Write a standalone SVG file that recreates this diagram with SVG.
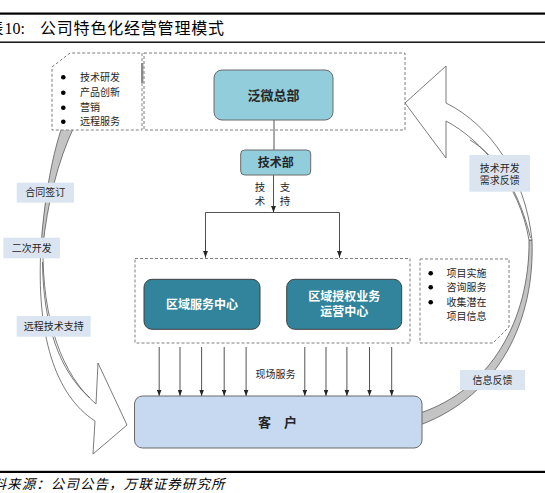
<svg xmlns="http://www.w3.org/2000/svg" width="545" height="493" viewBox="0 0 545 493">
<defs>
<marker id="ah" viewBox="0 0 8 6" refX="8" refY="3" markerWidth="6.5" markerHeight="5" orient="auto" markerUnits="userSpaceOnUse">
<path d="M0,0 L8,3 L0,6 Z" fill="#262626"/>
</marker>
</defs>
<style>
.t{font-family:'Liberation Sans','Noto Sans CJK SC',sans-serif;fill:#262626;font-size:10px}
.c{text-anchor:middle}
.b{font-weight:bold}
.dash{fill:#ffffff;stroke:#7f7f7f;stroke-width:1;stroke-dasharray:3,2}
.rib{stroke:#595959;stroke-width:0.8;stroke-linejoin:miter}
.lbl{fill:#dbe5f1}
.con{stroke:#404040;stroke-width:0.9;fill:none}
.dot{fill:#000000}
</style>
<rect x="0" y="0" width="545" height="493" fill="#ffffff"/>

<!-- header / footer -->
<g id="header">
<rect x="0" y="12.5" width="545" height="2.2" fill="#000000"/>
<rect x="0" y="41.5" width="545" height="1.4" fill="#000000"/>
<text x="-12.5" y="34" style="font-family:'Liberation Serif','Noto Sans CJK SC',serif;font-size:16px;fill:#000">表</text>
<text x="4.5" y="34" style="font-family:'Liberation Serif','Noto Sans CJK SC',serif;font-size:16px;fill:#000">10:</text>
<text x="40" y="34" style="font-family:'Liberation Serif','Noto Sans CJK SC',serif;font-size:16px;fill:#000" textLength="184" lengthAdjust="spacing">公司特色化经营管理模式</text>
</g>
<g id="footer">
<rect x="0" y="470.8" width="545" height="2.2" fill="#000000"/>
<text x="-7.5" y="489" textLength="232" lengthAdjust="spacing" style="font-family:'Liberation Serif','Noto Sans CJK SC',serif;font-size:13.5px;font-style:italic;fill:#000">料来源：公司公告，万联证券研究所</text>
</g>

<!-- ribbons (curved arrows) -->
<g id="left-ribbon">
<path class="rib" fill="#c4c4c4" d="M62,127 C54,150 45,190 41,246 L43,246 C47,205 58,160 74,127 Z"/>
<path class="rib" fill="#ffffff" d="M41,246 C36,335 55,395 95,421 L93,454 L127,425 L98,363 L96,404 C62,375 42,320 43,246 Z"/>
<path class="rib" fill="none" d="M42.5,262 C43,325 60,372 90,398"/>
</g>
<g id="right-ribbon">
<path class="rib" fill="#c4c4c4" d="M532,240 C535,320 500,395 420,425 L420,413 C490,390 530,320 529,240 Z"/>
<path class="rib" fill="#ffffff" d="M532,240 C525,175 490,125 446,103 L446,66 L405,103 L446,158 L446,121 C482,140 520,185 529,240 Z"/>
<path class="rib" fill="none" d="M470,140 C500,158 520,195 530.5,238"/>
</g>

<!-- dotted groupings -->
<g id="hq-group">
<path class="dash" d="M52,67 L70,53 L142,53 L142,130 L52,130 Z"/>
<rect x="141" y="63" width="2.4" height="20" fill="#8c8c8c"/>
<rect class="dash" x="144" y="53" width="261" height="77"/>
<circle class="dot" cx="63.3" cy="77.3" r="2.3"/>
<circle class="dot" cx="63.3" cy="92.7" r="2.3"/>
<circle class="dot" cx="63.3" cy="107.7" r="2.3"/>
<circle class="dot" cx="63.3" cy="121.7" r="2.3"/>
<text class="t" x="80" y="80.9">技术研发</text>
<text class="t" x="80" y="96.3">产品创新</text>
<text class="t" x="80" y="111.3">营销</text>
<text class="t" x="80" y="125.3">远程服务</text>
</g>
<g id="center-group">
<rect class="dash" x="135" y="258.5" width="275" height="84.5"/>
</g>
<g id="right-list">
<path class="dash" d="M420,259 L509,259 L509,327 L493,343 L420,343 Z"/>
<circle class="dot" cx="430.7" cy="273.3" r="2.3"/>
<circle class="dot" cx="430.7" cy="287.3" r="2.3"/>
<circle class="dot" cx="430.7" cy="302.3" r="2.3"/>
<text class="t" x="446.5" y="276.9">项目实施</text>
<text class="t" x="446.5" y="290.9">咨询服务</text>
<text class="t" x="446.5" y="305.9">收集潜在</text>
<text class="t" x="446.5" y="320.3">项目信息</text>
</g>

<!-- ribbon labels -->
<g id="label-contract">
<rect class="lbl" x="16.7" y="182.7" width="57.3" height="20"/>
<text class="t c" x="45.3" y="196.4">合同签订</text>
</g>
<g id="label-redev">
<rect class="lbl" x="3.3" y="237.7" width="56.7" height="20.6"/>
<text class="t c" x="31.7" y="251.7">二次开发</text>
</g>
<g id="label-remote">
<rect class="lbl" x="16.7" y="316" width="74" height="20.7"/>
<text class="t c" x="53.7" y="330">远程技术支持</text>
</g>
<g id="label-feedback-tech">
<rect class="lbl" x="469.3" y="155" width="60.7" height="36.7"/>
<text class="t c" x="499.7" y="172">技术开发</text>
<text class="t c" x="499.7" y="184.4">需求反馈</text>
</g>
<g id="label-info">
<rect class="lbl" x="460" y="370" width="65" height="20"/>
<text class="t c" x="492.5" y="383.7">信息反馈</text>
</g>

<!-- connectors -->
<g id="connectors">
<line class="con" x1="274" y1="120" x2="274" y2="150"/>
<line class="con" x1="273.5" y1="175" x2="273.5" y2="212.5" marker-end="url(#ah)"/>
<polyline class="con" points="205.5,257.5 205.5,212.5 339.5,212.5 339.5,257.5"/>
<line class="con" x1="205.5" y1="240" x2="205.5" y2="257.5" marker-end="url(#ah)"/>
<line class="con" x1="339.5" y1="240" x2="339.5" y2="257.5" marker-end="url(#ah)"/>
<line class="con" x1="159.2" y1="347" x2="159.2" y2="396" marker-end="url(#ah)"/>
<line class="con" x1="180" y1="347" x2="180" y2="396" marker-end="url(#ah)"/>
<line class="con" x1="201.6" y1="347" x2="201.6" y2="396" marker-end="url(#ah)"/>
<line class="con" x1="224.2" y1="347" x2="224.2" y2="396" marker-end="url(#ah)"/>
<line class="con" x1="246.1" y1="347" x2="246.1" y2="396" marker-end="url(#ah)"/>
<line class="con" x1="304.8" y1="347" x2="304.8" y2="396" marker-end="url(#ah)"/>
<line class="con" x1="326" y1="347" x2="326" y2="396" marker-end="url(#ah)"/>
<line class="con" x1="346.9" y1="347" x2="346.9" y2="396" marker-end="url(#ah)"/>
<line class="con" x1="369.5" y1="347" x2="369.5" y2="396" marker-end="url(#ah)"/>
<line class="con" x1="391.7" y1="347" x2="391.7" y2="396" marker-end="url(#ah)"/>
<text class="t c" x="260" y="190.5" style="font-size:10.5px">技</text>
<text class="t c" x="260" y="204.8" style="font-size:10.5px">术</text>
<text class="t c" x="285" y="190.5" style="font-size:10.5px">支</text>
<text class="t c" x="285" y="204.8" style="font-size:10.5px">持</text>
<text class="t c" x="275.5" y="378.2">现场服务</text>
</g>

<!-- nodes -->
<g id="node-hq">
<rect x="214" y="70" width="119" height="50" rx="8" fill="#92cddc" stroke="#6b6b6b" stroke-width="1"/>
<text class="t c b" x="273.5" y="99.8" style="font-size:13px">泛微总部</text>
</g>
<g id="node-tech">
<rect x="240.7" y="150" width="70" height="25" rx="4" fill="#92cddc" stroke="#6b6b6b" stroke-width="1"/>
<text class="t c b" x="275.7" y="166.9" style="font-size:12px">技术部</text>
</g>
<g id="node-regional">
<rect x="144" y="279.3" width="116" height="50" rx="8" fill="#31849b" stroke="#404040" stroke-width="1"/>
<text class="t c b" x="202" y="308.8" style="font-size:12px;fill:#ffffff">区域服务中心</text>
</g>
<g id="node-licensed">
<rect x="286.7" y="279.3" width="115" height="50" rx="8" fill="#31849b" stroke="#404040" stroke-width="1"/>
<text class="t c b" x="344.2" y="301" style="font-size:12px;fill:#ffffff">区域授权业务</text>
<text class="t c b" x="344.2" y="316" style="font-size:12px;fill:#ffffff">运营中心</text>
</g>
<g id="node-client">
<rect x="134.5" y="396" width="287.5" height="52" rx="8" fill="#c6d9f0" stroke="#6b6b6b" stroke-width="1"/>
<text class="t c b" x="277.5" y="426.8" style="font-size:13px">客　户</text>
</g>
</svg>
